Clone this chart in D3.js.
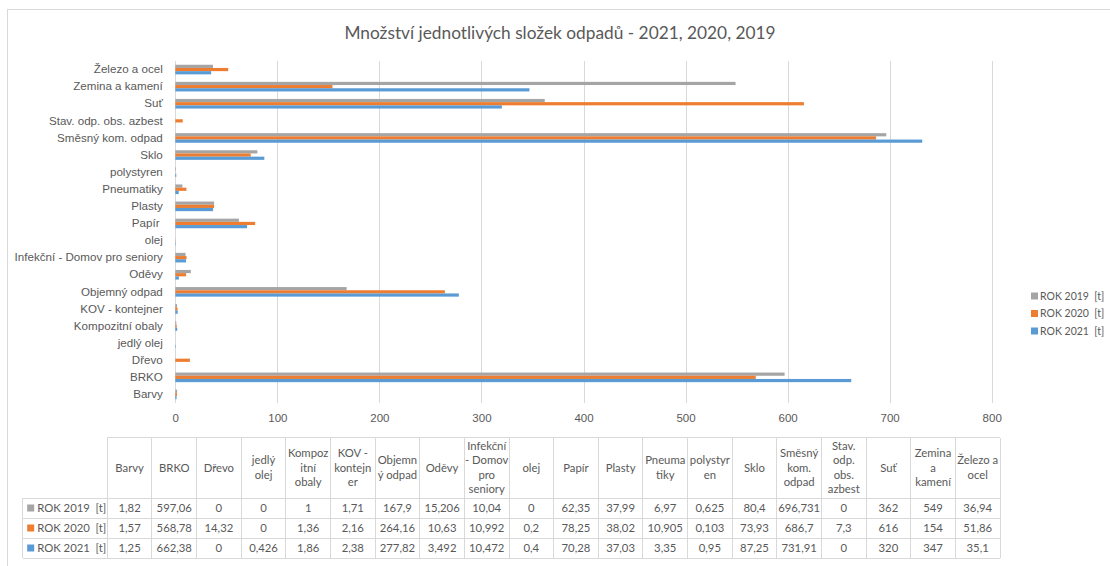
<!DOCTYPE html>
<html>
<head>
<meta charset="utf-8">
<script src="https://cdn.jsdelivr.net/npm/d3@7"></script>
<style>
  body { margin: 0; background: #fff; }
  svg { font-family: Lato, "Liberation Sans", sans-serif; }
  .lbl { white-space: pre; }
</style>
</head>
<body>
<svg id="chart" width="1110" height="566"></svg>
<script>
'use strict';

// categories in table order (bottom -> top on the bar axis)
const categories = ['Barvy', 'BRKO', 'Dřevo', 'jedlý olej', 'Kompozitní obaly', 'KOV - kontejner',
  'Objemný odpad', 'Oděvy', 'Infekční - Domov pro seniory', 'olej', 'Papír ', 'Plasty', 'Pneumatiky',
  'polystyren', 'Sklo', 'Směsný kom. odpad', 'Stav. odp. obs. azbest', 'Suť', 'Zemina a kamení', 'Železo a ocel'];

// header text of the data table, as wrapped in the picture
const tableHeaders = [['Barvy'], ['BRKO'], ['Dřevo'], ['jedlý', 'olej'], ['Kompoz', 'itní', 'obaly'],
  ['KOV -', 'kontejn', 'er'], ['Objemn', 'ý odpad'], ['Oděvy'], ['Infekční', '- Domov', 'pro', 'seniory'],
  ['olej'], ['Papír'], ['Plasty'], ['Pneuma', 'tiky'], ['polystyr', 'en'], ['Sklo'],
  ['Směsný', 'kom.', 'odpad'], ['Stav.', 'odp.', 'obs.', 'azbest'], ['Suť'], ['Zemina', 'a', 'kamení'],
  ['Železo a', 'ocel']];

const rok2019 = [1.82, 597.06, 0, 0, 1, 1.71, 167.9, 15.206, 10.04, 0, 62.35, 37.99, 6.97, 0.625, 80.4, 696.731, 0, 362, 549, 36.94];
const rok2020 = [1.57, 568.78, 14.32, 0, 1.36, 2.16, 264.16, 10.63, 10.992, 0.2, 78.25, 38.02, 10.905, 0.103, 73.93, 686.7, 7.3, 616, 154, 51.86];
const rok2021 = [1.25, 662.38, 0, 0.426, 1.86, 2.38, 277.82, 3.492, 10.472, 0.4, 70.28, 37.03, 3.35, 0.95, 87.25, 731.91, 0, 320, 347, 35.1];

const seriesNames = ['ROK 2019  [t]', 'ROK 2020  [t]', 'ROK 2021  [t]'];
const seriesColors = ['#A5A5A5', '#ED7D31', '#5B9BD5'];
const xTicks = [0, 100, 200, 300, 400, 500, 600, 700, 800];

const series = [rok2019, rok2020, rok2021];
const textColor = '#595959';
const gridColor = '#D9D9D9';

const svg = d3.select('#chart');

// chart frame
svg.append('rect')
  .attr('x', 7.5).attr('y', 9.5)
  .attr('width', 1200).attr('height', 700)
  .attr('fill', 'none').attr('stroke', gridColor);

// title
svg.append('text')
  .attr('x', 560).attr('y', 39)
  .attr('text-anchor', 'middle')
  .attr('font-size', 17.3)
  .attr('fill', textColor)
  .text('Množství jednotlivých složek odpadů - 2021, 2020, 2019');

// scales
const plot = {left: 175.3, right: 991.7, top: 61, bottom: 403};

const x = d3.scaleLinear().domain([0, 800]).range([plot.left, plot.right]);

const y = d3.scaleBand()
  .domain(categories.slice().reverse())
  .range([plot.top, plot.bottom]);

const barH = 3.2;
const ySeries = d3.scaleBand()
  .domain(d3.range(series.length))
  .range([-barH * 1.5, barH * 1.5]);

// gridlines
svg.append('g')
  .selectAll('line')
  .data(xTicks)
  .join('line')
  .attr('x1', d => Math.round(x(d)) + 0.5).attr('x2', d => Math.round(x(d)) + 0.5)
  .attr('y1', plot.top).attr('y2', plot.bottom)
  .attr('stroke', gridColor);

// x axis labels
const xAxis = svg.append('g')
  .attr('transform', `translate(0,${plot.bottom})`)
  .call(d3.axisBottom(x).tickValues(xTicks).tickSize(0).tickPadding(11));
xAxis.select('.domain').remove();
xAxis.selectAll('text').attr('font-size', 11.5).attr('fill', textColor).attr('font-family', null);

// y axis labels
const yAxis = svg.append('g')
  .attr('transform', `translate(${plot.left},0)`)
  .call(d3.axisLeft(y).tickSize(0).tickPadding(12.5));
yAxis.select('.domain').remove();
yAxis.selectAll('text')
  .attr('class', 'lbl')
  .attr('font-size', 11.6).attr('fill', textColor).attr('font-family', null);

// bars
const barData = [];
series.forEach((vals, si) => {
  vals.forEach((v, ci) => barData.push({cat: categories[ci], s: si, v: v}));
});

svg.append('g')
  .selectAll('rect')
  .data(barData)
  .join('rect')
  .attr('x', x(0))
  .attr('y', d => y(d.cat) + y.bandwidth() / 2 + ySeries(d.s))
  .attr('width', d => x(d.v) - x(0))
  .attr('height', ySeries.bandwidth())
  .attr('fill', d => seriesColors[d.s]);

// legend
const legend = svg.append('g')
  .selectAll('g')
  .data(seriesNames)
  .join('g')
  .attr('transform', (d, i) => `translate(1031,${296 + i * 17.5})`);
legend.append('rect')
  .attr('x', 0).attr('y', -3.5).attr('width', 7).attr('height', 7)
  .attr('fill', (d, i) => seriesColors[i]);
legend.append('text')
  .attr('class', 'lbl')
  .attr('x', 9).attr('dy', '0.35em')
  .attr('font-size', 10.5).attr('fill', textColor)
  .text(d => d);

// data table
const tbl = {left: 22.7, keyRight: 107.3, right: 1000, top: 437.5, headBottom: 498, rowH: 20};
const col = d3.scaleBand().domain(categories).range([tbl.keyRight, tbl.right]);
const rowY = d3.scaleBand().domain(d3.range(series.length))
  .range([tbl.headBottom, tbl.headBottom + tbl.rowH * series.length]);
const tableBottom = tbl.headBottom + tbl.rowH * series.length;
const tableG = svg.append('g').attr('stroke', gridColor).attr('shape-rendering', 'crispEdges');

// horizontal lines
tableG.append('line').attr('x1', tbl.keyRight).attr('x2', tbl.right).attr('y1', tbl.top).attr('y2', tbl.top);
d3.range(series.length + 1).forEach(i => {
  const yy = tbl.headBottom + i * tbl.rowH;
  tableG.append('line').attr('x1', tbl.left).attr('x2', tbl.right).attr('y1', yy).attr('y2', yy);
});
// vertical lines
tableG.append('line').attr('x1', tbl.left).attr('x2', tbl.left).attr('y1', tbl.headBottom).attr('y2', tableBottom);
categories.concat(['end']).forEach((c, i) => {
  const xx = tbl.keyRight + i * col.step();
  tableG.append('line').attr('x1', xx).attr('x2', xx).attr('y1', tbl.top).attr('y2', tableBottom);
});

// header text
const head = svg.append('g')
  .selectAll('text')
  .data(categories)
  .join('text')
  .attr('x', d => col(d) + col.bandwidth() / 2)
  .attr('text-anchor', 'middle')
  .attr('font-size', 11.3).attr('fill', textColor);
head.each(function (d, i) {
  const lines = tableHeaders[i];
  const lh = 14.5;
  const y0 = (tbl.top + tbl.headBottom) / 2 - (lines.length - 1) * lh / 2;
  d3.select(this).selectAll('tspan')
    .data(lines)
    .join('tspan')
    .attr('x', col(d) + col.bandwidth() / 2)
    .attr('y', (l, j) => y0 + j * lh)
    .attr('dy', '0.35em')
    .text(l => l);
});

// key column
const key = svg.append('g')
  .selectAll('g')
  .data(seriesNames)
  .join('g')
  .attr('transform', (d, i) => `translate(${tbl.left + 4.5},${rowY(i) + tbl.rowH / 2})`);
key.append('rect')
  .attr('x', 0).attr('y', -3.5).attr('width', 7).attr('height', 7)
  .attr('fill', (d, i) => seriesColors[i]);
key.append('text')
  .attr('class', 'lbl')
  .attr('x', 10).attr('dy', '0.35em')
  .attr('font-size', 11.3).attr('fill', textColor)
  .text(d => d);

// values
const fmt = v => String(v).replace('.', ',');
series.forEach((vals, si) => {
  svg.append('g')
    .selectAll('text')
    .data(vals)
    .join('text')
    .attr('x', (v, ci) => col(categories[ci]) + col.bandwidth() / 2)
    .attr('y', rowY(si) + tbl.rowH / 2)
    .attr('dy', '0.35em')
    .attr('text-anchor', 'middle')
    .attr('font-size', 11.3).attr('fill', textColor)
    .text(fmt);
});
</script>
</body>
</html>
